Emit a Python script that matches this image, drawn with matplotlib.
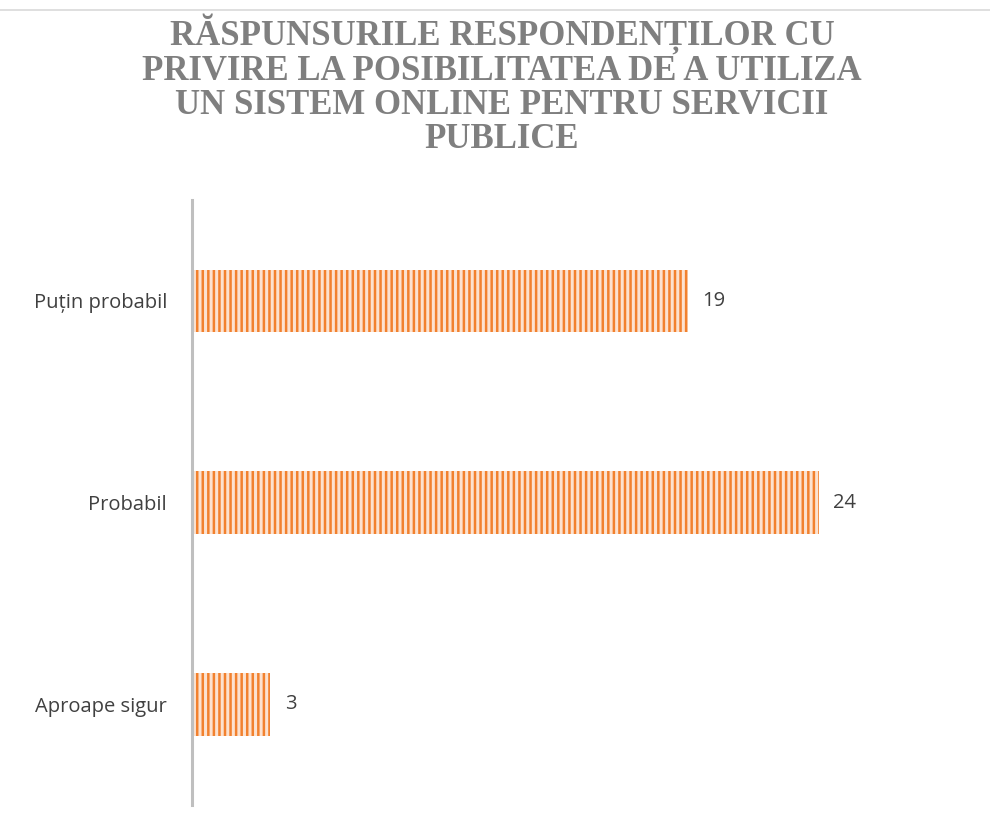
import numpy as np
import matplotlib.pyplot as plt
from matplotlib.lines import Line2D

# data
categories = ['Puțin probabil', 'Probabil', 'Aproape sigur']
values = [19, 24, 3]
title = 'RĂSPUNSURILE RESPONDENȚILOR CU\nPRIVIRE LA POSIBILITATEA DE A UTILIZA\nUN SISTEM ONLINE PENTRU SERVICII\nPUBLICE'

plt.rcParams['hatch.linewidth'] = 1.8

fig = plt.figure(figsize=(9.9, 8.3), dpi=100)
ax = fig.add_axes([0.194, 0.030, 0.791, 0.729])

y = np.arange(len(categories))
# light fill, then the vertical stripes on top
ax.barh(y, values, height=0.31, color='#FCE2D0', edgecolor='none')
ax.barh(y, values, height=0.31, fill=False, hatch='|||', edgecolor='#F2812E', linewidth=0)

for yi, v in zip(y, values):
    ax.text(v + 0.55, yi, str(v), va='center', ha='left', fontsize=14.5,
            color='#404040', family='Open Sans')

ax.set_yticks(y)
ax.set_yticklabels(categories, fontsize=14.5, color='#404040', family='Open Sans')
ax.tick_params(axis='y', length=0, pad=18)
ax.set_xticks([])
ax.set_xlim(0, 30)
ax.set_ylim(2.5, -0.5)

for s in ['top', 'right', 'bottom']:
    ax.spines[s].set_visible(False)
ax.spines['left'].set_color('#BFBFBF')
ax.spines['left'].set_linewidth(2.2)

fig.text(0.507, 0.984, title, ha='center', va='top', fontsize=25,
         fontweight='bold', color='#7F7F7F', family='Liberation Serif',
         linespacing=1.04)

# thin border line at the top of the chart area
fig.add_artist(Line2D([0, 1], [0.988, 0.988], color='#D9D9D9', linewidth=1.2,
                      transform=fig.transFigure))

fig.savefig('out.png', dpi=100)
